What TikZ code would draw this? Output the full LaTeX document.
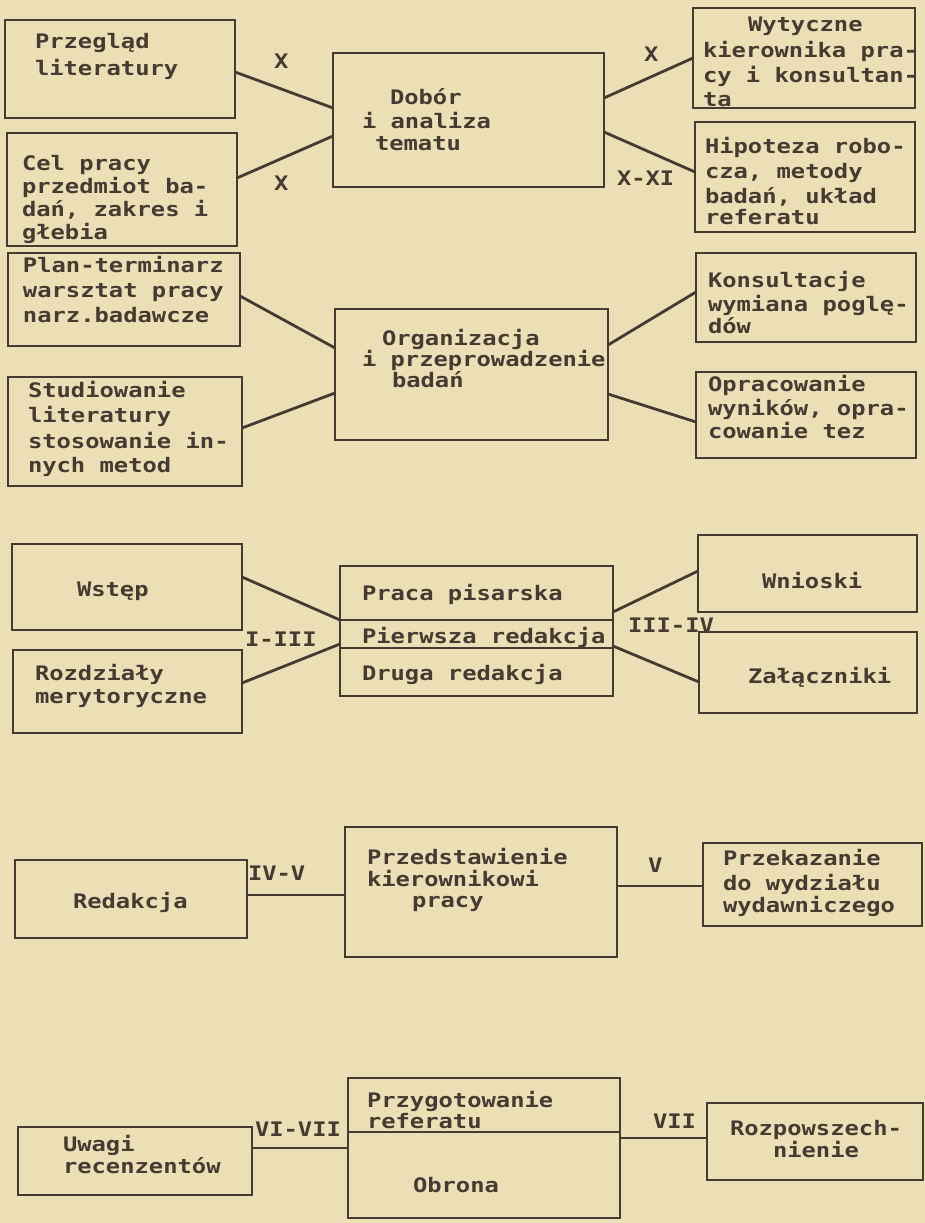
\documentclass[tikz,border=0pt]{standalone}
\usepackage{fontspec}
\newfontfamily\tw[FakeStretch=1.19]{DejaVu Sans Mono}
\usetikzlibrary{fit}
\definecolor{paper}{HTML}{ECDFB5}
\definecolor{ink}{HTML}{453B32}
\newcommand\st{\rule{0pt}{16pt}}
\begin{document}
\begin{tikzpicture}[x=1pt,y=-1pt,
  box/.style={draw=ink, line width=2.8pt, inner sep=0pt, outer sep=0pt, rectangle},
  conn/.style={draw=ink, line width=2.8pt},
  txt/.style={inner sep=0pt, outer sep=0pt, anchor=north west, align=left, text=ink, font=\tw\bfseries\fontsize{20}{24}\selectfont},
  lbl/.style={inner sep=0pt, outer sep=0pt, anchor=base west, text=ink, font=\tw\bfseries\fontsize{20}{24}\selectfont}]
\fill[paper] (0,0) rectangle (925,1223);
\useasboundingbox (0,0) rectangle (925,1223);

% ---------- boxes ----------
\node[box, fit={(5,20) (235,118)}] (pl) {};
\node[box, fit={(7,133) (237,246)}] (cel) {};
\node[box, fit={(333,53) (604,187)}] (dob) {};
\node[box, fit={(693,8) (915,108)}] (wyt) {};
\node[box, fit={(695,122) (915,232)}] (hip) {};
\node[box, fit={(8,253) (240,346)}] (plan) {};
\node[box, fit={(8,377) (242,486)}] (stud) {};
\node[box, fit={(335,309) (608,440)}] (org) {};
\node[box, fit={(696,253) (916,342)}] (kons) {};
\node[box, fit={(696,372) (916,458)}] (opr) {};
\node[box, fit={(12,544) (242,630)}] (wst) {};
\node[box, fit={(13,650) (242,733)}] (roz) {};
\node[box, fit={(340,566) (613,696)}] (praca) {};
\node[box, fit={(698,535) (917,612)}] (wn) {};
\node[box, fit={(699,632) (917,713)}] (zal) {};
\node[box, fit={(15,860) (247,938)}] (red) {};
\node[box, fit={(345,827) (617,957)}] (prz) {};
\node[box, fit={(703,843) (922,926)}] (prk) {};
\node[box, fit={(18,1127) (252,1195)}] (uw) {};
\node[box, fit={(348,1078) (620,1218)}] (obr) {};
\node[box, fit={(707,1103) (923,1180)}] (rozp) {};

% dividers
\draw[conn] (praca.west |- 0,620) -- (praca.east |- 0,620);
\draw[conn] (praca.west |- 0,648) -- (praca.east |- 0,648);
\draw[conn] (obr.west |- 0,1132) -- (obr.east |- 0,1132);

% ---------- connectors ----------
\draw[conn] (pl.east |- 0,72) -- (dob.west |- 0,108);
\draw[conn] (cel.east |- 0,178) -- (dob.west |- 0,136);
\draw[conn] (dob.east |- 0,98) -- (wyt.west |- 0,58);
\draw[conn] (dob.east |- 0,132) -- (hip.west |- 0,172);
\draw[conn] (plan.east |- 0,296) -- (org.west |- 0,348);
\draw[conn] (stud.east |- 0,428) -- (org.west |- 0,393);
\draw[conn] (org.east |- 0,345) -- (kons.west |- 0,292);
\draw[conn] (org.east |- 0,394) -- (opr.west |- 0,422);
\draw[conn] (wst.east |- 0,577) -- (praca.west |- 0,620);
\draw[conn] (roz.east |- 0,683) -- (praca.west |- 0,644);
\draw[conn] (praca.east |- 0,612) -- (wn.west |- 0,571);
\draw[conn] (praca.east |- 0,646) -- (zal.west |- 0,682);
\draw[conn] (red.east |- 0,895) -- (prz.west |- 0,895);
\draw[conn] (prz.east |- 0,886) -- (prk.west |- 0,886);
\draw[conn] (uw.east |- 0,1148) -- (obr.west |- 0,1148);
\draw[conn] (obr.east |- 0,1138) -- (rozp.west |- 0,1138);

% ---------- texts ----------
\node[txt] (t-pl) at (35,32) {\st Przegląd\\[3pt]literatury};
\node[txt] (t-cel) at (22,154) {\st Cel pracy\\[-1pt]przedmiot ba-\\[-1pt]dań, zakres i\\[-1pt]głebia};
\node[txt] (t-dob) at (362,88) {\st\hspace*{28pt}Dobór\\i analiza\\[-2pt]\hspace*{13pt}tematu};
\node[txt] (t-wyt) at (703,16) {\st\hspace*{45pt}Wytyczne\\[2pt]kierownika pra-\\[1pt]cy i konsultan-\\[-1pt]ta};
\node[txt] (t-hip) at (705,137) {\st Hipoteza robo-\\[1pt]cza, metody\\[1pt]badań, układ\\[-3pt]referatu};
\node[txt] (t-plan) at (23,256) {\st Plan-terminarz\\[1pt]warsztat pracy\\[1pt]narz.badawcze};
\node[txt] (t-stud) at (28,381) {\st Studiowanie\\[1pt]literatury\\[2pt]stosowanie in-\\nych metod};
\node[txt] (t-org) at (362,329) {\st\hspace*{20pt}Organizacja\\[-3pt]i przeprowadzenie\\[-3pt]\hspace*{30pt}badań};
\node[txt] (t-kons) at (708,271) {\st Konsultacje\\wymiana poglę-\\[-2pt]dów};
\node[txt] (t-opr) at (708,375) {\st Opracowanie\\wyników, opra-\\[-1pt]cowanie tez};
\node[txt] (t-wst) at (77,580) {\st Wstęp};
\node[txt] (t-roz) at (35,664) {\st Rozdziały\\[-1pt]merytoryczne};
\node[txt] (t-pr1) at (362,584) {\st Praca pisarska};
\node[txt] (t-pr2) at (362,627) {\st Pierwsza redakcja};
\node[txt] (t-pr3) at (362,664) {\st Druga redakcja};
\node[txt] (t-wn) at (762,572) {\st Wnioski};
\node[txt] (t-zal) at (748,667) {\st Załączniki};
\node[txt] (t-red) at (73,892) {\st Redakcja};
\node[txt] (t-prz) at (367,848) {\st Przedstawienie\\[-2pt]kierownikowi\\[-3pt]\hspace*{45pt}pracy};
\node[txt] (t-prk) at (723,849) {\st Przekazanie\\[1pt]do wydziału\\[-2pt]wydawniczego};
\node[txt] (t-uw) at (63,1135) {\st Uwagi\\[-2pt]recenzentów};
\node[txt] (t-przyg) at (367,1091) {\st Przygotowanie\\[-3pt]referatu};
\node[txt] (t-obr) at (413,1176) {\st Obrona};
\node[txt] (t-rozp) at (730,1119) {\st Rozpowszech-\\[-2pt]\hspace*{43pt}nienie};

% ---------- labels ----------
\node[lbl] (l1) at (274,68) {X};
\node[lbl] (l2) at (274,190) {X};
\node[lbl] (l3) at (644,62) {X};
\node[lbl] (l4) at (617,185) {X-XI};
\node[lbl] (l5) at (245,646) {I-III};
\node[lbl] (l6) at (628,632) {III-IV};
\node[lbl] (l7) at (248,880) {IV-V};
\node[lbl] (l8) at (648,872) {V};
\node[lbl] (l9) at (255,1136) {VI-VII};
\node[lbl] (l10) at (653,1128) {VII};
\end{tikzpicture}
\end{document}
